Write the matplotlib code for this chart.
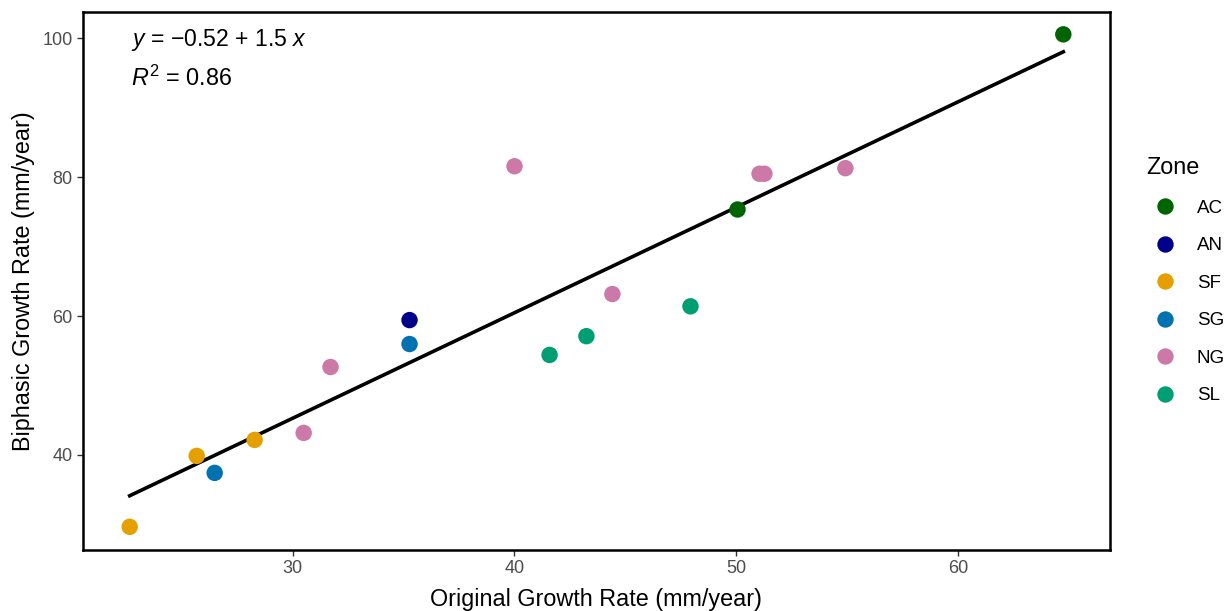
import numpy as np
import matplotlib
matplotlib.use("Agg")
import matplotlib.pyplot as plt
from matplotlib.lines import Line2D

plt.rcParams['font.family'] = ['Liberation Sans', 'DejaVu Sans']
plt.rcParams['mathtext.fontset'] = 'custom'
plt.rcParams['mathtext.rm'] = 'Liberation Sans'
plt.rcParams['mathtext.it'] = 'Liberation Sans:italic'

zones = ["AC", "AN", "SF", "SG", "NG", "SL"]
colors = {"AC": "#006400", "AN": "#00008B", "SF": "#E69F00",
          "SG": "#0072B2", "NG": "#CC79A7", "SL": "#009E73"}

original = [50.05, 64.73, 35.27, 22.66, 25.68, 28.29, 26.49, 35.27,
            30.5, 31.71, 40.0, 44.41, 51.04, 51.26, 54.91, 41.58, 43.24, 47.93]
biphasic = [75.35, 100.58, 59.42, 29.64, 39.86, 42.16, 37.41, 55.97,
            43.17, 52.66, 81.58, 63.17, 80.5, 80.5, 81.3, 54.4, 57.1, 61.4]
zone_of = ["AC", "AC", "AN", "SF", "SF", "SF", "SG", "SG",
           "NG", "NG", "NG", "NG", "NG", "NG", "NG", "SL", "SL", "SL"]

x = np.array(original)
y = np.array(biphasic)

fig = plt.figure(figsize=(12.3, 6.11), dpi=100)
ax = fig.add_axes([83/1230, 1-550/611, (1110-83)/1230, (550-12)/611])

slope, intercept = np.polyfit(x, y, 1)
xs = np.linspace(x.min(), x.max(), 100)
ax.plot(xs, intercept + slope*xs, color='black', lw=2.6, zorder=2)

for z in zones:
    idx = [i for i, zz in enumerate(zone_of) if zz == z]
    ax.scatter(x[idx], y[idx], s=140, color=colors[z], edgecolors='none', zorder=3)

rng = x.max() - x.min()
ax.set_xlim(x.min() - 0.05*rng, x.max() + 0.05*rng)
ax.set_ylim(26.3, 103.8)
ax.set_xticks([30, 40, 50, 60])
ax.set_yticks([40, 60, 80, 100])
ax.tick_params(axis='both', labelsize=13, labelcolor='#4D4D4D', color='#333333',
               length=4, width=1)
for s in ax.spines.values():
    s.set_linewidth(1.8)
    s.set_color('black')

ax.set_xlabel("Original Growth Rate (mm/year)", fontsize=16.8, labelpad=7.5)
ax.set_ylabel("Biphasic Growth Rate (mm/year)", fontsize=16.8, labelpad=5)

ax.text(0.047, 0.972, '$y$ = \u22120.52 + 1.5 $x$', transform=ax.transAxes,
        fontsize=16.6, va='top', ha='left')
ax.text(0.047, 0.900, r'$R^2$ = 0.86', transform=ax.transAxes,
        fontsize=16.8, va='top', ha='left')

handles = [Line2D([0], [0], marker='o', linestyle='none', markersize=11.8,
                  markerfacecolor=colors[z], markeredgecolor='none') for z in zones]
leg = fig.legend(handles, zones, title="Zone", loc='upper left',
                 bbox_to_anchor=(1146/1230, 1-156/611), frameon=False,
                 fontsize=13.5, title_fontsize=16.8, labelspacing=1.09,
                 handletextpad=0.65, handlelength=2.05, borderaxespad=0,
                 borderpad=0)
leg._legend_box.align = "left"

fig.savefig("out.png", dpi=100)
